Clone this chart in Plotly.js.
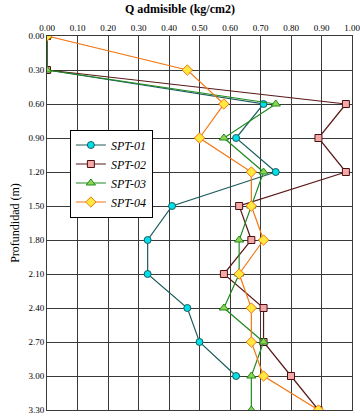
<!DOCTYPE html>
<html>
<head>
<meta charset="utf-8">
<script src="https://cdn.plot.ly/plotly-3.0.1.min.js"></script>
<style>html,body{margin:0;padding:0;background:#fff;}#chart{width:360px;height:417px;}</style>
</head>
<body>
<div id="chart"></div>
<script>
const depth = [0.00, 0.30, 0.60, 0.90, 1.20, 1.50, 1.80, 2.10, 2.40, 2.70, 3.00, 3.30];
const depth01 = [0.00, 0.30, 0.60, 0.90, 1.20, 1.50, 1.80, 2.10, 2.40, 2.70, 3.00];
const spt01 = [0, 0, 0.71, 0.62, 0.75, 0.41, 0.33, 0.33, 0.46, 0.50, 0.62];
const spt02 = [0, 0, 0.98, 0.89, 0.98, 0.63, 0.67, 0.58, 0.71, 0.71, 0.80, 0.89];
const spt03 = [0, 0, 0.75, 0.58, 0.71, 0.67, 0.63, 0.63, 0.58, 0.71, 0.67, 0.67];
const spt04 = [0, 0.46, 0.58, 0.50, 0.67, 0.67, 0.71, 0.63, 0.67, 0.67, 0.71, 0.89];
const names = ['SPT-01', 'SPT-02', 'SPT-03', 'SPT-04'];
const xTicks = [0, 0.1, 0.2, 0.3, 0.4, 0.5, 0.6, 0.7, 0.8, 0.9, 1.0];
const xTickText = ['0.00', '0.10', '0.20', '0.30', '0.40', '0.50', '0.60', '0.70', '0.80', '0.90', '1.00'];
const yTicks = depth;
const yTickText = ['0.00', '0.30', '0.60', '0.90', '1.20', '1.50', '1.80', '2.10', '2.40', '2.70', '3.00', '3.30'];

const traces = [
  {x: spt01, y: depth01, name: names[0], mode: 'lines+markers',
   line: {color: '#1d5c5c', width: 1.2},
   marker: {symbol: 'circle', size: 7, color: '#00e0ea', line: {color: '#1d5c5c', width: 1}}},
  {x: spt02, y: depth, name: names[1], mode: 'lines+markers',
   line: {color: '#5a1818', width: 1.2},
   marker: {symbol: 'square', size: 7, color: '#f5a8a8', line: {color: '#4a1010', width: 1}}},
  {x: spt03, y: depth, name: names[2], mode: 'lines+markers',
   line: {color: '#1f8a1f', width: 1.2},
   marker: {symbol: 'triangle-up', size: 8, color: '#8fd450', line: {color: '#1f8a1f', width: 1}}},
  {x: spt04, y: depth, name: names[3], mode: 'lines+markers',
   line: {color: '#f07812', width: 1.2},
   marker: {symbol: 'diamond', size: 8, color: '#ffe840', line: {color: '#f07812', width: 1}}}
];

const layout = {
  width: 360, height: 417,
  margin: {l: 47, r: 8, t: 36, b: 7},
  paper_bgcolor: '#fff', plot_bgcolor: '#fff',
  font: {family: 'Liberation Serif, serif', color: '#000', size: 9},
  title: {text: '<b>Q admisible (kg/cm2)</b>', x: 0.5, xanchor: 'center', y: 0.988, yanchor: 'top',
          font: {family: 'Liberation Serif, serif', size: 12, color: '#000'}},
  xaxis: {side: 'top', range: [0, 1], tickmode: 'array', tickvals: xTicks, ticktext: xTickText,
          ticklabeloverflow: 'allow',
          showgrid: true, gridcolor: '#3a3a3a', gridwidth: 1,
          showline: true, linecolor: '#3a3a3a', linewidth: 1, mirror: true,
          zeroline: false, ticks: '', ticklen: 0,
          tickfont: {family: 'Liberation Serif, serif', size: 9, color: '#000'}},
  yaxis: {range: [3.3, 0], tickmode: 'array', tickvals: yTicks, ticktext: yTickText,
          ticklabeloverflow: 'allow',
          showgrid: true, gridcolor: '#3a3a3a', gridwidth: 1,
          showline: true, linecolor: '#3a3a3a', linewidth: 1, mirror: true,
          zeroline: false, ticks: '', ticklen: 0,
          title: {text: 'Profundidad (m)', standoff: 6, font: {family: 'Liberation Serif, serif', size: 12, color: '#000'}},
          tickfont: {family: 'Liberation Serif, serif', size: 9, color: '#000'}},
  showlegend: true,
  legend: {x: 0.075, y: 0.75, xanchor: 'left', yanchor: 'top',
           bgcolor: '#fff', bordercolor: '#000', borderwidth: 1,
           font: {family: 'Liberation Serif, serif', size: 12, color: '#000', style: 'italic'},
           tracegroupgap: 0, itemwidth: 30}
};

Plotly.newPlot('chart', traces, layout, {displayModeBar: false, staticPlot: true});
</script>
</body>
</html>
